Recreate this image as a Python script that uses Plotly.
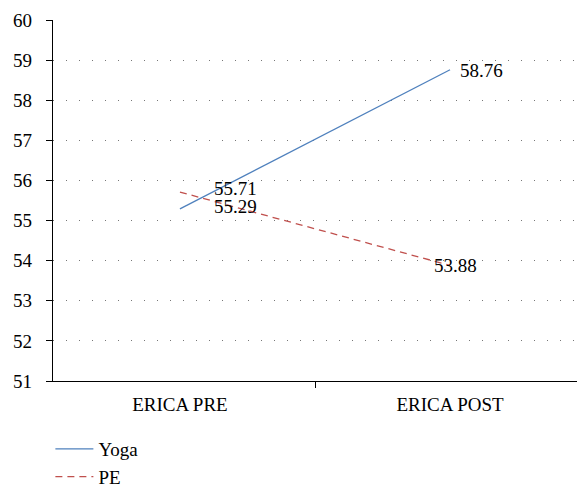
import plotly.graph_objects as go

categories = ["ERICA PRE", "ERICA POST"]
yoga = [55.29, 58.76]
pe = [55.71, 53.88]
y_ticks = [51, 52, 53, 54, 55, 56, 57, 58, 59, 60]

FONT = "'Liberation Serif', 'Times New Roman', serif"
FS = 19

fig = go.Figure()
fig.add_trace(go.Scatter(x=[0, 1], y=yoga, name="Yoga", mode="lines",
                         line=dict(color="#4F81BD", width=1.3)))
fig.add_trace(go.Scatter(x=[0, 1], y=pe, name="PE", mode="lines",
                         line=dict(color="#C0504D", width=1.3, dash="7px,5px")))

label_shifts = {("Yoga", 0): (32, 2), ("Yoga", 1): (8, -1),
                ("PE", 0): (32, 4), ("PE", 1): (-18, 0)}
for name, vals in (("Yoga", yoga), ("PE", pe)):
    for i, v in enumerate(vals):
        dx, dy = label_shifts[(name, i)]
        fig.add_annotation(x=i, y=v, text=f"{v:.2f}", showarrow=False,
                           xanchor="left", yanchor="middle", xshift=dx, yshift=dy,
                           font=dict(family=FONT, size=FS, color="black"))

fig.update_layout(
    width=577, height=487,
    margin=dict(l=53, r=0, t=20, b=106, autoexpand=False),
    paper_bgcolor="white", plot_bgcolor="white",
    font=dict(family=FONT, size=FS, color="black"),
    showlegend=True,
    legend=dict(x=-0.005, y=-0.136, xanchor="left", yanchor="top",
                orientation="v", itemwidth=38, font=dict(family=FONT, size=FS),
                bgcolor="rgba(0,0,0,0)", tracegroupgap=0),
)
fig.update_xaxes(range=[-0.47, 1.47], tickvals=[0, 1], ticktext=categories,
                 showline=True, linecolor="black", linewidth=1.2,
                 ticks="", showgrid=False, zeroline=False, automargin=False,
                 ticklabelstandoff=6, tickfont=dict(family=FONT, size=FS))
# boundary tick marks between categories
fig.update_layout(xaxis2=dict(overlaying="x", range=[-0.47, 1.47], tickvals=[-0.5, 0.5, 1.5],
                              ticks="outside", ticklen=6, tickcolor="black",
                              showticklabels=False, showgrid=False, zeroline=False,
                              showline=False, anchor="y", side="bottom", automargin=False))
fig.add_trace(go.Scatter(x=[0.5], y=[51], xaxis="x2", mode="markers",
                         marker=dict(opacity=0), showlegend=False, hoverinfo="skip"))
fig.update_yaxes(range=[51, 60], tickvals=y_ticks, showline=True, linecolor="black",
                 linewidth=1.2, ticks="outside", ticklen=6, tickcolor="black",
                 showgrid=True, gridcolor="#777777", gridwidth=1, griddash="1px,12px",
                 zeroline=False, automargin=False, ticklabelstandoff=10,
                 tickfont=dict(family=FONT, size=FS))

fig.write_html("out.html", config={"displayModeBar": False},
               post_script="document.body.style.margin='0';")
